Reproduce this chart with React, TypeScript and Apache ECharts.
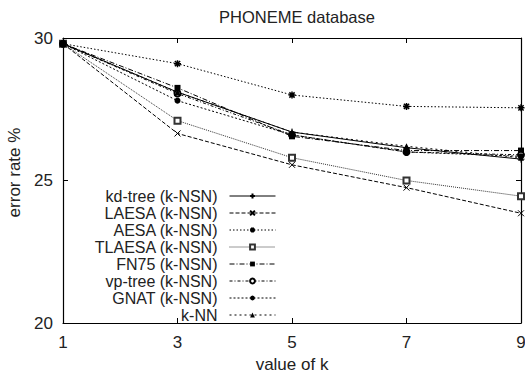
import React, { useEffect, useRef } from "react";
import * as echarts from "echarts";

const categories = ["1", "3", "5", "7", "9"];
const yTicks = [20, 25, 30];

const seriesNames = [
  "kd-tree (k-NSN)",
  "LAESA (k-NSN)",
  "AESA (k-NSN)",
  "TLAESA (k-NSN)",
  "FN75 (k-NSN)",
  "vp-tree (k-NSN)",
  "GNAT (k-NSN)",
  "k-NN",
];

const kdTree = [29.8, 28.1, 26.7, 26.15, 25.75];
const laesa = [29.8, 26.65, 25.55, 24.75, 23.85];
const aesa = [29.8, 29.1, 28.0, 27.6, 27.55];
const tlaesa = [29.8, 27.1, 25.8, 25.0, 24.45];
const fn75 = [29.8, 28.25, 26.55, 26.05, 26.05];
const vpTree = [29.8, 28.05, 26.6, 26.0, 25.9];
const gnat = [29.8, 27.8, 26.6, 26.0, 25.85];
const kNN = [29.8, 28.1, 26.7, 26.2, 25.8];

const seriesData = [kdTree, laesa, aesa, tlaesa, fn75, vpTree, gnat, kNN];

const PLUS = "path://M0,4L8,4M4,0L4,8";
const CROSS = "path://M0,0L8,8M0,8L8,0";
const STAR = "path://M0,4L8,4M4,0L4,8M1,1L7,7M1,7L7,1";

const styles = [
  { dash: "solid", symbol: PLUS, fill: "none", stroke: 1, color: "#000", size: 7 },
  { dash: [4, 2], symbol: CROSS, fill: "none", stroke: 1, color: "#000", size: 6 },
  { dash: [1.5, 2], symbol: STAR, fill: "none", stroke: 1.5, color: "#000", size: 7 },
  { dash: [1, 1], symbol: "emptyRect", fill: "#333", stroke: 1, color: "#333", size: 6 },
  { dash: [5, 2, 1, 2], symbol: "rect", fill: "#000", stroke: 0, color: "#000", size: 6 },
  { dash: [3, 2, 1, 2], symbol: "emptyCircle", fill: "#000", stroke: 1, color: "#000", size: 6 },
  { dash: [2, 2], symbol: "circle", fill: "#000", stroke: 0, color: "#000", size: 6 },
  { dash: [2, 3], symbol: "triangle", fill: "#000", stroke: 0, color: "#000", size: 6 },
];

const FONT = "Liberation Sans, Arial, Helvetica, sans-serif";
const FS = 17;

export default function App() {
  const ref = useRef<HTMLDivElement>(null);
  useEffect(() => {
    if (!ref.current) return;
    const chart = echarts.init(ref.current, null, { renderer: "svg" });
    const axisLine = { show: true, lineStyle: { color: "#000", width: 1.2 } };
    chart.setOption({
      animation: false,
      backgroundColor: "#fff",
      textStyle: { fontFamily: FONT, color: "#222" },
      title: {
        text: "PHONEME database",
        left: 292,
        textAlign: "center",
        top: 3,
        textStyle: { fontFamily: FONT, fontSize: 16.5, fontWeight: "normal", color: "#222" },
      },
      grid: { left: 63, right: 4, top: 38, bottom: 55, containLabel: false, outerBoundsMode: "none" },
      legend: {
        orient: "vertical",
        align: "right",
        right: 244,
        top: 182.5,
        itemGap: 0,
        itemWidth: 46,
        itemHeight: 6,
        data: seriesNames,
        lineStyle: { width: 1 },
        textStyle: {
          fontFamily: FONT,
          fontSize: 16,
          color: "#222",
          lineHeight: 17,
          padding: [0, 7, 0, 0],
        },
      },
      xAxis: [
        {
          type: "category",
          data: categories,
          boundaryGap: false,
          name: "value of k",
          nameLocation: "middle",
          nameGap: 30,
          nameTextStyle: { fontFamily: FONT, fontSize: FS, color: "#222" },
          axisLine,
          axisTick: { inside: true, length: 5, lineStyle: { color: "#000" } },
          axisLabel: { margin: 11, fontFamily: FONT, fontSize: FS, color: "#222" },
          splitLine: { show: false },
        },
        {
          type: "category",
          data: categories,
          boundaryGap: false,
          position: "top",
          axisLine,
          axisTick: { inside: true, length: 5, lineStyle: { color: "#000" } },
          axisLabel: { show: false },
          splitLine: { show: false },
        },
      ],
      yAxis: [
        {
          type: "value",
          min: yTicks[0],
          max: yTicks[yTicks.length - 1],
          interval: 5,
          name: "error rate %",
          nameLocation: "middle",
          nameGap: 40,
          nameTextStyle: { fontFamily: FONT, fontSize: FS, color: "#222", padding: [0, 0, 0, 16] },
          axisLine,
          axisTick: { show: true, inside: true, length: 5, lineStyle: { color: "#000" } },
          axisLabel: { margin: 10, fontFamily: FONT, fontSize: FS, color: "#222" },
          splitLine: { show: false },
        },
        {
          type: "value",
          min: yTicks[0],
          max: yTicks[yTicks.length - 1],
          interval: 5,
          position: "right",
          axisLine,
          axisTick: { show: true, inside: true, length: 5, lineStyle: { color: "#000" } },
          axisLabel: { show: false },
          splitLine: { show: false },
        },
      ],
      series: seriesNames.map((name, i) => {
        const s = styles[i];
        return {
          name,
          type: "line",
          xAxisIndex: 0,
          yAxisIndex: 0,
          data: seriesData[i],
          symbol: s.symbol,
          symbolSize: s.size,
          showAllSymbol: true,
          lineStyle: { color: s.color, width: 1, type: s.dash },
          itemStyle: {
            color: s.fill,
            borderColor: s.color,
            borderWidth: s.stroke,
          },
          emphasis: { disabled: true },
        };
      }),
    });
    return () => chart.dispose();
  }, []);
  return <div ref={ref} style={{ width: 525, height: 378, position: "absolute", left: 0, top: 0 }} />;
}
